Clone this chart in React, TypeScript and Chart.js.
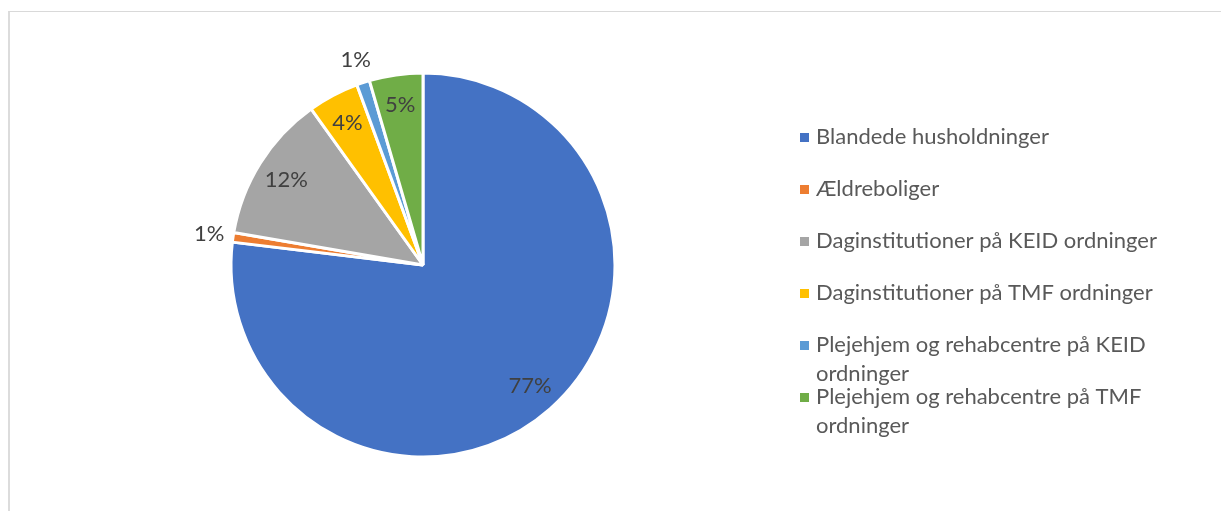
import React, { useEffect, useRef } from "react";
import { Chart, registerables } from "chart.js";

Chart.register(...registerables);

const categories = [
  "Blandede husholdninger",
  "Ældreboliger",
  "Daginstitutioner på KEID ordninger",
  "Daginstitutioner på TMF ordninger",
  "Plejehjem og rehabcentre på KEID ordninger",
  "Plejehjem og rehabcentre på TMF ordninger",
];
const shares = [76.9, 0.8, 12.4, 4.3, 1.1, 4.5];
const sliceColors = ["#4472C4", "#ED7D31", "#A5A5A5", "#FFC000", "#5B9BD5", "#70AD47"];
const labelOutside = [false, true, false, false, true, false];

const FONT_FAMILY = "Lato, 'Open Sans', sans-serif";
const FONT_SIZE = 22;

const pieLabelPlugin = {
  id: "pieLabels",
  afterDatasetsDraw(chart: any) {
    const ctx = chart.ctx;
    const meta = chart.getDatasetMeta(0);
    const data = chart.data.datasets[0].data as number[];
    ctx.save();
    ctx.font = `${FONT_SIZE}px ${FONT_FAMILY}`;
    ctx.fillStyle = "#404040";
    ctx.textAlign = "center";
    ctx.textBaseline = "middle";
    meta.data.forEach((arc: any, i: number) => {
      const p = arc.getProps(["x", "y", "startAngle", "endAngle", "outerRadius"], true);
      const mid = (p.startAngle + p.endAngle) / 2;
      const r = labelOutside[i] ? p.outerRadius + 24 : p.outerRadius * 0.84;
      const tx = p.x + Math.cos(mid) * r;
      const ty = p.y + Math.sin(mid) * r;
      ctx.fillText(`${Math.round(data[i])}%`, tx, ty);
    });
    ctx.restore();
  },
};

const legendPlugin = {
  id: "sideLegend",
  afterDraw(chart: any) {
    const ctx = chart.ctx;
    const markerX = 800;
    const textX = 816;
    const maxWidth = 375;
    const itemGap = 52;
    const lineGap = 29;
    let y = 137;
    ctx.save();
    ctx.font = `${FONT_SIZE}px ${FONT_FAMILY}`;
    ctx.textBaseline = "middle";
    ctx.textAlign = "left";
    categories.forEach((label, i) => {
      const words = label.split(" ");
      const lines: string[] = [];
      let cur = "";
      words.forEach((w) => {
        const test = cur ? cur + " " + w : w;
        if (ctx.measureText(test).width > maxWidth && cur) {
          lines.push(cur);
          cur = w;
        } else {
          cur = test;
        }
      });
      if (cur) lines.push(cur);
      ctx.fillStyle = sliceColors[i];
      ctx.fillRect(markerX, y - 4, 9, 9);
      ctx.fillStyle = "#595959";
      lines.forEach((ln, j) => {
        ctx.fillText(ln, textX, y + j * lineGap);
      });
      y += itemGap;
    });
    ctx.restore();
  },
};

export default function App() {
  const canvasRef = useRef<HTMLCanvasElement | null>(null);

  useEffect(() => {
    if (!canvasRef.current) return;
    const chart = new Chart(canvasRef.current, {
      type: "pie",
      data: {
        labels: categories,
        datasets: [
          {
            data: shares,
            backgroundColor: sliceColors,
            borderColor: "#ffffff",
            borderWidth: 3,
            radius: 192,
          } as any,
        ],
      },
      options: {
        animation: false,
        responsive: false,
        maintainAspectRatio: false,
        devicePixelRatio: 1,
        layout: { padding: { left: 231, right: 606, top: 73, bottom: 54 } },
        plugins: {
          legend: { display: false },
          tooltip: { enabled: false },
        },
      },
      plugins: [pieLabelPlugin, legendPlugin],
    });
    return () => chart.destroy();
  }, []);

  return (
    <div
      style={{
        position: "fixed",
        left: 0,
        top: 0,
        width: 1221,
        height: 511,
        overflow: "hidden",
        background: "#ffffff",
      }}
    >
      <div
        style={{
          position: "absolute",
          left: 8,
          top: 11,
          width: 1400,
          height: 700,
          borderTop: "1px solid #d9d9d9",
          borderLeft: "2px solid #dcdcdc",
        }}
      />
      <canvas
        ref={canvasRef}
        width={1221}
        height={511}
        style={{ position: "absolute", left: 0, top: 0, width: 1221, height: 511 }}
      />
    </div>
  );
}
